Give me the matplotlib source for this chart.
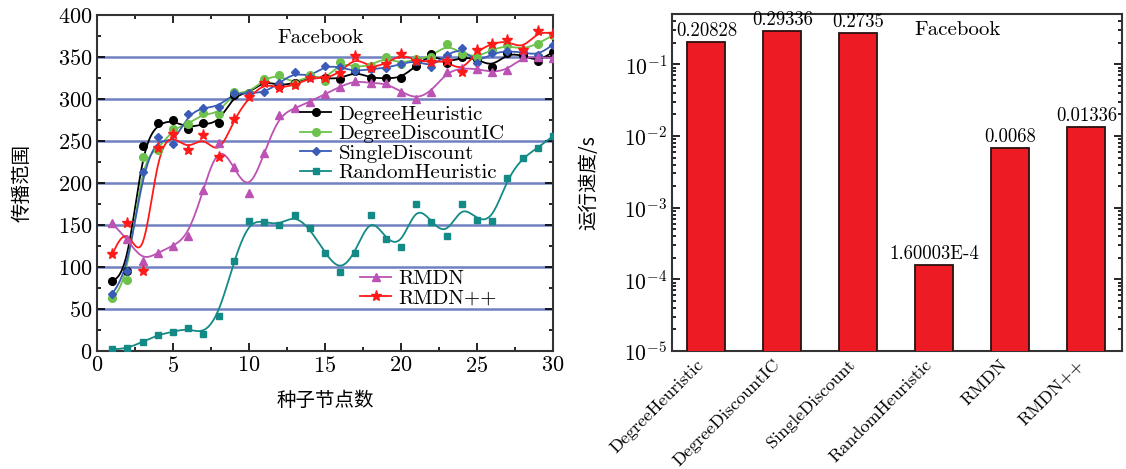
import numpy as np
import matplotlib
matplotlib.use("Agg")
import matplotlib.pyplot as plt
from matplotlib.lines import Line2D
from matplotlib.ticker import MultipleLocator, LogLocator, LogFormatterMathtext, NullFormatter

plt.rcParams['font.family'] = ['cmr10', 'Noto Sans CJK SC']
plt.rcParams['mathtext.fontset'] = 'cm'
plt.rcParams['axes.formatter.use_mathtext'] = True
plt.rcParams['axes.unicode_minus'] = False

# seed node counts
seeds = np.arange(1, 31)

# spread range for each method
degree_heuristic = [83, 95, 244, 271, 275, 265, 271, 271, 305, 307,
                    322, 316, 319, 327, 325, 324, 333, 325, 325, 325,
                    340, 354, 343, 350, 348, 338, 355, 352, 345, 356]
degree_discount = [63, 84, 231, 239, 265, 270, 283, 282, 309, 307,
                   324, 329, 318, 329, 322, 344, 338, 340, 350, 342,
                   348, 350, 366, 354, 350, 359, 364, 359, 366, 376]
single_discount = [68, 95, 213, 255, 246, 282, 290, 291, 307, 307,
                   308, 319, 332, 326, 340, 338, 333, 336, 337, 342,
                   346, 338, 353, 361, 343, 355, 357, 356, 352, 365]
random_heuristic = [2, 3, 11, 19, 23, 27, 20, 42, 107, 155,
                    154, 150, 162, 146, 117, 94, 117, 162, 133, 124,
                    175, 154, 137, 175, 156, 155, 206, 230, 242, 256]
rmdn = [152, 133, 107, 117, 125, 137, 192, 248, 219, 188,
        236, 281, 289, 297, 306, 315, 322, 319, 319, 309,
        300, 309, 332, 337, 336, 332, 335, 350, 350, 349]
rmdn_pp = [115, 152, 95, 242, 258, 239, 257, 231, 276, 302,
           319, 313, 317, 325, 325, 331, 351, 337, 342, 354,
           346, 344, 346, 332, 358, 366, 370, 359, 381, 378]

# running time (right panel)
methods = ['DegreeHeuristic', 'DegreeDiscountIC', 'SingleDiscount',
           'RandomHeuristic', 'RMDN', 'RMDN++']
run_time = [0.20828, 0.29336, 0.2735, 1.60003e-4, 0.0068, 0.01336]
time_labels = ['0.20828', '0.29336', '0.2735', '1.60003E-4', '0.0068', '0.01336']


def bspline(x, y, n=24):
    """uniform cubic B-spline with clamped ends (Origin-like smoothing)"""
    px = np.r_[x[0], x[0], x, x[-1], x[-1]].astype(float)
    py = np.r_[y[0], y[0], y, y[-1], y[-1]].astype(float)
    t = np.linspace(0, 1, n)
    b0 = (1 - t) ** 3 / 6
    b1 = (3 * t ** 3 - 6 * t ** 2 + 4) / 6
    b2 = (-3 * t ** 3 + 3 * t ** 2 + 3 * t + 1) / 6
    b3 = t ** 3 / 6
    xs, ys = [], []
    for i in range(len(px) - 3):
        xs.append(b0 * px[i] + b1 * px[i + 1] + b2 * px[i + 2] + b3 * px[i + 3])
        ys.append(b0 * py[i] + b1 * py[i + 1] + b2 * py[i + 2] + b3 * py[i + 3])
    return np.concatenate(xs), np.concatenate(ys)


fig = plt.figure(figsize=(11.26, 4.69), dpi=100)
ax1 = fig.add_axes([0.0861, 0.2516, 0.405, 0.716])
ax2 = fig.add_axes([0.597, 0.2516, 0.3996, 0.718])

grid_color = '#7080c0'
for yv in range(50, 400, 50):
    ax1.axhline(yv, color=grid_color, lw=1.8, zorder=0)

series = [
    ('DegreeHeuristic', degree_heuristic, '#000000', 'o', 5.5),
    ('DegreeDiscountIC', degree_discount, '#6cc24a', 'o', 5.5),
    ('SingleDiscount', single_discount, '#3a5cb8', 'D', 4.5),
    ('RandomHeuristic', random_heuristic, '#138a86', 's', 4.5),
    ('RMDN', rmdn, '#bb52b4', '^', 6),
    ('RMDN++', rmdn_pp, '#ff1a1a', '*', 8),
]
handles = []
for name, vals, col, mk, ms in series:
    sx, sy = bspline(seeds, vals)
    ax1.plot(sx, sy, color=col, lw=1.3, zorder=3)
    ax1.plot(seeds, vals, ls='none', marker=mk, ms=ms, color=col, zorder=4)
    handles.append(Line2D([], [], color=col, lw=1.3, marker=mk, ms=ms))

leg_kw = dict(loc='upper left', frameon=False, fontsize=15, handlelength=1.5,
              handletextpad=0.35, labelspacing=0.04, borderpad=0,
              borderaxespad=0, numpoints=1)
leg1 = ax1.legend(handles[:4], [s[0] for s in series[:4]],
                  bbox_to_anchor=(0.445, 0.732), **leg_kw)
ax1.add_artist(leg1)
ax1.legend(handles[4:], [s[0] for s in series[4:]],
           bbox_to_anchor=(0.577, 0.242), **leg_kw)

ax1.set_xlim(0, 30)
ax1.set_ylim(0, 400)
ax1.xaxis.set_major_locator(MultipleLocator(5))
ax1.xaxis.set_minor_locator(MultipleLocator(2.5))
ax1.yaxis.set_major_locator(MultipleLocator(50))
ax1.yaxis.set_minor_locator(MultipleLocator(25))
ax1.text(14.7, 373, 'Facebook', ha='center', va='center', fontsize=15)
ax1.set_xlabel('种子节点数', family=['Noto Sans CJK SC'], fontsize=14, labelpad=10)
ax1.set_ylabel('传播范围', family=['Noto Sans CJK SC'], fontsize=14, labelpad=18)

# right panel: running time bars
pos = np.arange(len(methods))
ax2.bar(pos, run_time, width=0.5, color='#ed1c24', edgecolor='#2a1010',
        linewidth=1.3, zorder=3)
for p, v, lab in zip(pos, run_time, time_labels):
    ax2.text(p, v * 1.06, lab, ha='center', va='bottom', fontsize=13.5)
ax2.set_yscale('log')
ax2.set_ylim(1e-5, 0.5)
ax2.set_xlim(-0.45, 5.47)
ax2.yaxis.set_major_locator(LogLocator(base=10, numticks=10))
ax2.yaxis.set_minor_locator(LogLocator(base=10, subs=np.arange(2, 10), numticks=10))
ax2.yaxis.set_major_formatter(LogFormatterMathtext())
ax2.yaxis.set_minor_formatter(NullFormatter())
ax2.set_xticks(pos)
ax2.set_xticklabels(methods, rotation=45, ha='right')
ax2.text(3.3, 0.3, 'Facebook', ha='center', va='center', fontsize=15)
ax2.set_ylabel('运行速度/s', family=['Noto Sans CJK SC'], fontsize=14, labelpad=18)

for ax in (ax1, ax2):
    for sp in ax.spines.values():
        sp.set_linewidth(1.5)
        sp.set_color('#333333')
    ax.tick_params(which='both', direction='in', top=True, right=True, width=1.2)
    ax.tick_params(which='major', length=6)
    ax.tick_params(which='minor', length=3)
ax1.tick_params(labelsize=16)
ax2.tick_params(axis='y', labelsize=15.5)
ax2.tick_params(axis='x', which='both', top=False, bottom=False, pad=4, labelsize=13)

fig.savefig('out.png', dpi=100)
